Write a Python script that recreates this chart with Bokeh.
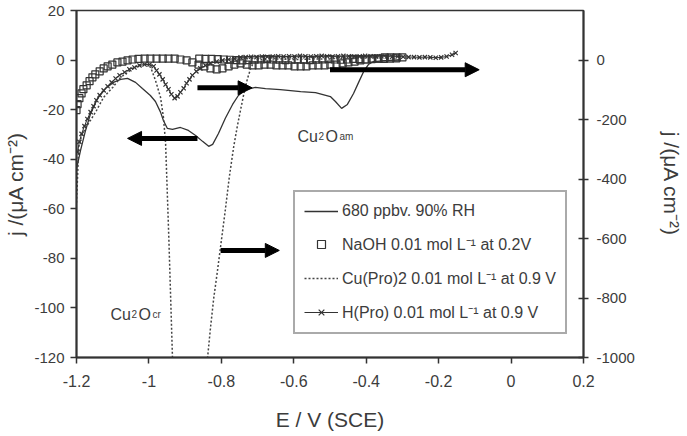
from bokeh.plotting import figure
from bokeh.models import (Range1d, LinearAxis, FixedTicker, CustomJSTickFormatter,
                          Legend, LegendItem, Arrow, NormalHead, Label)
from bokeh.embed import file_html
from bokeh.resources import INLINE

# ---- data -----------------------------------------------------------------
# 680 ppbv, 90 % RH (left axis, uA cm-2)
rh_E = [-1.200, -1.189, -1.175, -1.161, -1.142, -1.120, -1.098, -1.078, -1.059, -1.037,
        -1.018, -0.996, -0.982, -0.968, -0.960, -0.949, -0.935, -0.913, -0.891, -0.871,
        -0.852, -0.835, -0.824, -0.808, -0.789, -0.769, -0.753, -0.733, -0.706, -0.678,
        -0.637, -0.581, -0.540, -0.499, -0.485, -0.468, -0.452, -0.435, -0.421, -0.407,
        -0.394, -0.380, -0.347, -0.305]
rh_j = [-44.0, -36.5, -28.4, -21.5, -15.5, -11.5, -9.0, -7.8, -7.4, -9.0,
        -11.5, -14.3, -16.7, -21.0, -24.4, -27.6, -28.0, -27.2, -28.4, -30.4,
        -32.8, -34.8, -34.0, -29.6, -23.5, -17.9, -14.3, -11.9, -11.0, -11.5,
        -11.9, -12.7, -13.1, -14.7, -16.7, -19.5, -17.9, -13.5, -9.0, -4.6,
        -1.8, -0.6, -0.2, 0.2]

# NaOH 0.01 mol L-1 at 0.2 V (right axis, uA cm-2)
naoh_E = [-1.200, -1.197, -1.192, -1.186, -1.181, -1.172, -1.164, -1.156, -1.148, -1.136,
          -1.125, -1.114, -1.101, -1.087, -1.073, -1.059, -1.045, -1.029, -1.012, -0.996,
          -0.979, -0.962, -0.946, -0.929, -0.913, -0.896, -0.880, -0.863, -0.847, -0.830,
          -0.813, -0.797, -0.780, -0.764, -0.747, -0.730, -0.714, -0.697, -0.681, -0.664,
          -0.648, -0.631, -0.615, -0.598, -0.581, -0.565, -0.548, -0.532, -0.515, -0.499,
          -0.482, -0.465, -0.449, -0.432, -0.416, -0.399, -0.383, -0.366, -0.349, -0.333,
          -0.316, -0.300,
          -0.317, -0.334, -0.351, -0.368, -0.385, -0.402, -0.419, -0.436, -0.453, -0.470,
          -0.487, -0.504, -0.521, -0.538, -0.555, -0.572, -0.589, -0.606, -0.623, -0.640,
          -0.657, -0.674, -0.691, -0.708, -0.725, -0.742, -0.759, -0.776, -0.793, -0.810,
          -0.827, -0.844, -0.861]
naoh_j = [-168, -148, -128, -112, -98, -85, -71, -58, -48, -38,
          -28, -21, -15, -8, -5, -1, 2, 4, 5, 5,
          5, 5, 5, 5, 2, -1, -8, -15, -21, -28,
          -31, -28, -21, -15, -11, -15, -18, -18, -15, -15,
          -18, -18, -18, -21, -21, -21, -18, -18, -18, -15,
          -15, -11, -8, -5, -1, 2, 5, 5, 9, 9,
          9, 9,
          6, 5, 4, 5, 3, 2, 3, 4, 2, 1,
          2, 3, 2, 1, 0, 1, 2, 1, 0, 1,
          2, 3, 2, 1, 0, -1, 0, 1, 2, 3,
          4, 4, 5]

# Cu(Pro)2 0.01 mol L-1 at 0.9 V (right axis, uA cm-2)
cupro_E = [-1.200, -1.197, -1.194, -1.186, -1.175, -1.161, -1.145, -1.125, -1.100, -1.078,
           -1.055, -1.032, -1.009, -0.995, -0.982, -0.968, -0.960, -0.954, -0.945, -0.935,
           -0.928, -0.900, -0.860, -0.845, -0.838, -0.830, -0.821, -0.812, -0.802, -0.790,
           -0.778, -0.766, -0.756, -0.747, -0.737, -0.728, -0.719, -0.711, -0.700, -0.650,
           -0.600, -0.550, -0.500, -0.450, -0.400, -0.350]
cupro_j = [-480, -390, -292, -255, -228, -202, -170, -125, -92, -58,
           -38, -18, -11, -25, -68, -125, -192, -278, -600, -1000,
           -1200, -1450, -1450, -1150, -1000, -900, -800, -720, -626, -513,
           -393, -292, -223, -168, -108, -63, -28, -8, 2, 4,
           2, 3, 4, 5, 7, 9]

# H(Pro) 0.01 mol L-1 at 0.9 V (right axis, uA cm-2)
hpro_E = [-1.197, -1.192, -1.186, -1.178, -1.170, -1.161, -1.153, -1.145, -1.136, -1.125,
          -1.114, -1.103, -1.092, -1.081, -1.067, -1.054, -1.040, -1.026, -1.012, -0.998,
          -0.987, -0.979, -0.971, -0.962, -0.954, -0.946, -0.938, -0.929, -0.921, -0.913,
          -0.904, -0.896, -0.888, -0.880, -0.869, -0.858, -0.844, -0.830, -0.813, -0.797,
          -0.780, -0.764, -0.747, -0.733, -0.718, -0.703, -0.688, -0.673, -0.658, -0.643,
          -0.628, -0.613, -0.598, -0.583, -0.568, -0.553, -0.538, -0.523, -0.508, -0.493,
          -0.478, -0.463, -0.448, -0.433, -0.418, -0.403, -0.388, -0.373, -0.358, -0.343,
          -0.328, -0.313, -0.298, -0.283, -0.268, -0.253, -0.238, -0.223, -0.208, -0.193,
          -0.178, -0.163, -0.153]
hpro_j = [-309, -275, -248, -222, -198, -175, -155, -135, -118, -102,
          -88, -75, -62, -51, -41, -31, -25, -18, -15, -15,
          -21, -35, -48, -65, -82, -98, -115, -128, -122, -108,
          -95, -78, -65, -51, -38, -28, -18, -11, -5, -1,
          2, 5, 9, 10, 11, 10, 12, 11, 12, 13,
          12, 13, 12, 14, 13, 12, 13, 14, 13, 12,
          13, 14, 13, 12, 13, 14, 13, 12, 13, 12,
          11, 12, 11, 10, 10, 9, 10, 9, 8, 9,
          12, 18, 24]

x_ticks = [-1.2, -1.0, -0.8, -0.6, -0.4, -0.2, 0.0, 0.2]
left_ticks = [-120, -100, -80, -60, -40, -20, 0, 20]
right_ticks = [-1000, -800, -600, -400, -200, 0]

FONT = "Liberation Sans"
INK = "#333333"
TXT = "#3c3c3c"

# ---- figure ---------------------------------------------------------------
p = figure(width=687, height=436, x_range=Range1d(-1.2, 0.2), y_range=Range1d(-120, 20),
           output_backend="svg", toolbar_location=None,
           min_border_left=76, min_border_right=104, min_border_top=10, min_border_bottom=79)
p.extra_y_ranges = {"right": Range1d(-1000, 1000 * 20 / 120)}
p.xgrid.visible = False
p.ygrid.visible = False
p.outline_line_color = INK
p.outline_line_width = 1.5
p.background_fill_color = "white"
p.border_fill_color = "white"

right_axis = LinearAxis(y_range_name="right")
p.add_layout(right_axis, "right")

for ax in (p.xaxis[0], p.yaxis[0], right_axis):
    ax.axis_line_color = INK
    ax.axis_line_width = 2
    ax.major_tick_line_color = INK
    ax.major_tick_line_width = 1.5
    ax.minor_tick_line_color = None
    ax.major_label_text_font = FONT
    ax.major_label_text_font_size = "15px"
    ax.major_label_text_color = TXT
    ax.axis_label_text_font = FONT
    ax.axis_label_text_font_size = "21px"
    ax.axis_label_text_font_style = "normal"
    ax.axis_label_text_color = TXT

# plain hyphen-minus tick labels, "-1" rather than "-1.0"
p.xaxis.ticker = FixedTicker(ticks=x_ticks)
p.xaxis.formatter = CustomJSTickFormatter(code="return tick.toFixed(1).replace(/\\.0$/, '')")
p.xaxis.major_label_text_font_size = "16px"
p.xaxis.major_tick_in = 0
p.xaxis.major_tick_out = 6
p.xaxis.major_label_standoff = 11
p.xaxis.axis_label = "E / V (SCE)"
p.xaxis.axis_label_standoff = 18

int_fmt = CustomJSTickFormatter(code="return Math.round(tick).toString()")

p.yaxis[0].ticker = FixedTicker(ticks=left_ticks)
p.yaxis[0].formatter = int_fmt
p.yaxis[0].major_tick_in = 0
p.yaxis[0].major_tick_out = 6
p.yaxis[0].major_label_standoff = 6
p.yaxis[0].axis_label = "j /(μA cm⁻²)"
p.yaxis[0].axis_label_standoff = 4

right_axis.ticker = FixedTicker(ticks=right_ticks)
right_axis.formatter = int_fmt
right_axis.major_tick_in = 5
right_axis.major_tick_out = 5
right_axis.major_label_standoff = 8
right_axis.axis_label = "j /(μA cm⁻²)"
right_axis.axis_label_standoff = 22

# ---- series ---------------------------------------------------------------
r_rh = p.line(rh_E, rh_j, line_color=INK, line_width=1.3)
r_naoh = p.scatter(naoh_E, naoh_j, y_range_name="right", marker="square", size=7,
                   fill_color=None, line_color=INK, line_width=1.2)
r_cupro = p.line(cupro_E, cupro_j, y_range_name="right", line_color="#444444",
                 line_width=1.5, line_dash="2 2")
r_hpro_l = p.line(hpro_E, hpro_j, y_range_name="right", line_color=INK, line_width=1.0)
r_hpro_m = p.scatter(hpro_E, hpro_j, y_range_name="right", marker="x", size=6,
                     line_color=INK, line_width=1.2)

# ---- arrows pointing to the axis each curve belongs to ----------------------
def arrow(x0, x1, y, rng="default"):
    a = Arrow(end=NormalHead(size=14, fill_color="black", line_color="black"),
              x_start=x0, x_end=x1, y_start=y, y_end=y,
              line_width=5, line_color="black")
    if rng != "default":
        a.y_range_name = rng
    p.add_layout(a)

arrow(-0.866, -1.059, -31.6)
arrow(-0.866, -0.715, -11.2)
arrow(-0.802, -0.640, -76.8)
arrow(-0.500, -0.088, -3.9)

# ---- phase labels -----------------------------------------------------------
def phase_label(x, y, small_sub, sub_text, offs):
    big = dict(text_font=FONT, text_font_size="16px", text_color=TXT, text_baseline="alphabetic")
    small = dict(text_font=FONT, text_font_size="10px", text_color=TXT, text_baseline="alphabetic")
    p.add_layout(Label(x=x, y=y, text="Cu", x_offset=offs[0], **big))
    p.add_layout(Label(x=x, y=y, text=small_sub, x_offset=offs[1], **small))
    p.add_layout(Label(x=x, y=y, text="O", x_offset=offs[2], **big))
    p.add_layout(Label(x=x, y=y, text=sub_text, x_offset=offs[3], **small))

phase_label(-0.590, -30.8, "2", "am", (0, 21, 28, 42))
phase_label(-1.106, -102.6, "2", "cr", (0, 21, 28, 42))

# ---- legend -----------------------------------------------------------------
legend = Legend(items=[
    LegendItem(label="680 ppbv. 90% RH", renderers=[r_rh]),
    LegendItem(label="NaOH 0.01 mol L⁻¹ at 0.2V", renderers=[r_naoh]),
    LegendItem(label="Cu(Pro)2 0.01 mol L⁻¹ at 0.9 V", renderers=[r_cupro]),
    LegendItem(label="H(Pro) 0.01 mol L⁻¹ at 0.9 V", renderers=[r_hpro_l, r_hpro_m]),
], location=(217, 23))
legend.border_line_color = "#555555"
legend.border_line_width = 2
legend.background_fill_color = "white"
legend.background_fill_alpha = 1
legend.padding = 9
legend.spacing = 12
legend.margin = 0
legend.glyph_width = 34
legend.glyph_height = 20
legend.label_height = 20
legend.label_standoff = 4
legend.label_text_font = FONT
legend.label_text_font_size = "16px"
legend.label_text_color = TXT
p.add_layout(legend)

open("out.html", "w").write(file_html(p, INLINE))
